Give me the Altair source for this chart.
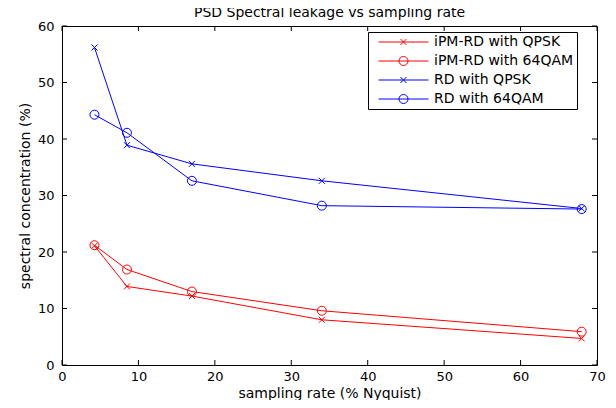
import altair as alt
import pandas as pd

# ---- data ----
sampling_rate = [4.25, 8.5, 17, 34, 68]
series_names = ["iPM-RD with QPSK", "iPM-RD with 64QAM", "RD with QPSK", "RD with 64QAM"]
ipm_qpsk = [21.1, 13.9, 12.2, 8.0, 4.7]
ipm_64qam = [21.2, 16.9, 13.0, 9.6, 5.9]
rd_qpsk = [56.2, 38.9, 35.6, 32.6, 27.7]
rd_64qam = [44.3, 41.1, 32.6, 28.2, 27.6]
x_ticks = [0, 10, 20, 30, 40, 50, 60, 70]
y_ticks = [0, 10, 20, 30, 40, 50, 60]

series_values = [ipm_qpsk, ipm_64qam, rd_qpsk, rd_64qam]
marker_kind = ["x", "o", "x", "o"]
colors = ["#ff0000", "#ff0000", "#0000ff", "#0000ff"]

rows = []
for name, vals, mk in zip(series_names, series_values, marker_kind):
    for xv, yv in zip(sampling_rate, vals):
        rows.append({"rate": xv, "value": yv, "series": name, "marker": mk})
df = pd.DataFrame(rows)
xt = pd.DataFrame({"t": x_ticks})
yt = pd.DataFrame({"t": y_ticks})

W, H = 535, 339
FONT = "DejaVu Sans"

xscale = alt.Scale(domain=[0, 70], nice=False, zero=False)
yscale = alt.Scale(domain=[0, 60], nice=False, zero=False)

x_path = "M-1,-1L1,1M-1,1L1,-1"
leg_x = "M-1,0H1M-0.12,-0.12L0.12,0.12M-0.12,0.12L0.12,-0.12"
leg_o = "M-1,0H1M-0.18,0A0.18,0.18,0,1,0,0.18,0A0.18,0.18,0,1,0,-0.18,0"

color_scale = alt.Scale(domain=series_names, range=colors)

X = alt.X("rate:Q", scale=xscale,
          axis=alt.Axis(values=x_ticks, title="sampling rate (% Nyquist)", ticks=False,
                        domain=False, grid=False, labelFlush=False, labelPadding=5,
                        labelOverlap=False, titlePadding=3))
Y = alt.Y("value:Q", scale=yscale,
          axis=alt.Axis(values=y_ticks, title="spectral concentration (%)", ticks=False,
                        domain=False, grid=False, labelFlush=False, labelPadding=8,
                        labelOverlap=False, titlePadding=5))

base = alt.Chart(df)

tick_len = 5
bottom_ticks = alt.Chart(xt).mark_rule(color="black", strokeWidth=1).encode(
    x=alt.X("t:Q", scale=xscale), y=alt.value(H), y2=alt.value(H - tick_len))
top_ticks = alt.Chart(xt).mark_rule(color="black", strokeWidth=1).encode(
    x=alt.X("t:Q", scale=xscale), y=alt.value(0), y2=alt.value(tick_len))
left_ticks = alt.Chart(yt).mark_rule(color="black", strokeWidth=1).encode(
    y=alt.Y("t:Q", scale=yscale), x=alt.value(0), x2=alt.value(tick_len))
right_ticks = alt.Chart(yt).mark_rule(color="black", strokeWidth=1).encode(
    y=alt.Y("t:Q", scale=yscale), x=alt.value(W), x2=alt.value(W - tick_len))

lines = base.mark_line(strokeWidth=1).encode(
    x=X, y=Y,
    color=alt.Color("series:N", scale=color_scale, legend=None),
)

crosses = base.transform_filter(alt.datum.marker == "x").mark_point(
    shape=x_path, filled=False, size=36, strokeWidth=1, opacity=1
).encode(x="rate:Q", y="value:Q",
         color=alt.Color("series:N", scale=color_scale, legend=None))

circles = base.transform_filter(alt.datum.marker == "o").mark_point(
    shape="circle", filled=False, size=81, strokeWidth=1, opacity=1
).encode(x="rate:Q", y="value:Q",
         color=alt.Color("series:N", scale=color_scale, legend=None))

legend_def = alt.Legend(
    title=None, orient="none", legendX=306, legendY=6, direction="vertical",
    symbolSize=2500, clipHeight=14, rowPadding=5, padding=3,
    symbolOffset=7, labelOffset=5, symbolStrokeWidth=1, symbolOpacity=1,
    labelFont=FONT, labelFontSize=14, labelColor="black",
    strokeColor="black", fillColor="white", cornerRadius=0,
    labelExpr="datum.label + '    '",
)

legend_layer = base.mark_point(filled=False, opacity=0).encode(
    x="rate:Q", y="value:Q",
    color=alt.Color("series:N", scale=color_scale, legend=legend_def),
    shape=alt.Shape("series:N", scale=alt.Scale(domain=series_names,
                                                range=[leg_x, leg_o, leg_x, leg_o]),
                    legend=legend_def),
)

chart = alt.layer(
    bottom_ticks, top_ticks, left_ticks, right_ticks,
    lines, crosses, circles, legend_layer,
).resolve_legend(
    color="independent", shape="independent"
).properties(
    width=W, height=H,
    autosize=alt.AutoSizeParams(type="none"),
    padding={"left": 54, "top": 18, "right": 11, "bottom": 35},
    title=alt.TitleParams("PSD Spectral leakage vs sampling rate", font=FONT,
                          fontSize=14, fontWeight="normal", color="black",
                          anchor="middle", frame="group", offset=0),
    background="white",
).configure_view(
    stroke="black", strokeWidth=1
).configure_axis(
    labelFont=FONT, labelFontSize=13, labelColor="black",
    titleFont=FONT, titleFontSize=14, titleFontWeight="normal", titleColor="black",
)

chart.save("out.html", embed_options={"renderer": "svg", "actions": False})
